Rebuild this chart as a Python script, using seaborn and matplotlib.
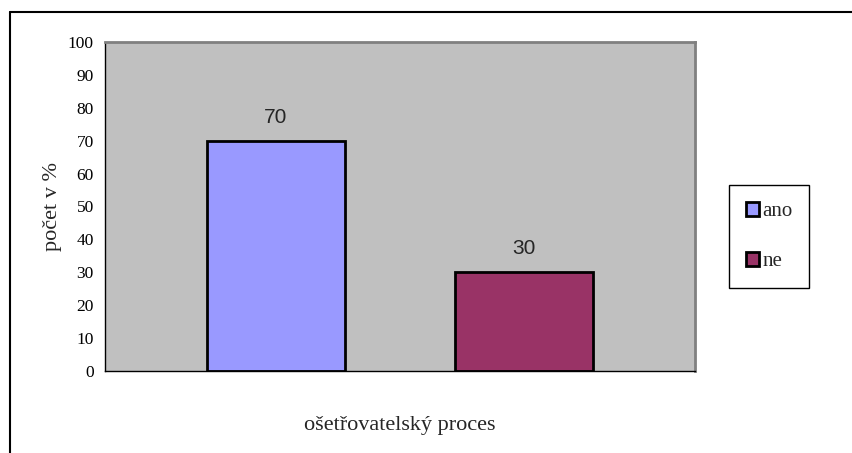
import matplotlib
matplotlib.use("Agg")
import matplotlib.pyplot as plt
import seaborn as sns
from matplotlib.lines import Line2D
from matplotlib.patches import Patch

# data
categories = ["ano", "ne"]
values = [70, 30]
colors = ["#9999FF", "#993366"]
y_ticks = list(range(0, 101, 10))

sns.set_style("white")
plt.rcParams['font.family'] = ['Liberation Serif', 'DejaVu Serif']

fig = plt.figure(figsize=(8.53, 4.53), dpi=100)
ax = fig.add_axes([105/853, 1 - 371/453, 590/853, 329/453])

sns.barplot(x=categories, y=values, hue=categories, palette=colors, width=0.556,
            saturation=1, edgecolor="black", linewidth=2, legend=False, ax=ax)
ax.set_facecolor("#C0C0C0")
ax.set_xlim(-0.69, 1.69)
ax.set_ylim(0, 100)
ax.set_yticks(y_ticks)
ax.set_xticks([-0.69, 1.69])
ax.set_xticklabels([])
ax.tick_params(axis="both", direction="out", colors="black", labelsize=12.5)
ax.tick_params(axis="y", length=5, width=1, pad=3)
ax.tick_params(axis="x", length=9, width=1)

for side in ["left", "bottom"]:
    ax.spines[side].set_color("black")
    ax.spines[side].set_linewidth(1)
for side in ["top", "right"]:
    ax.spines[side].set_visible(True)
    ax.spines[side].set_color("#808080")
    ax.spines[side].set_linewidth(2)

for i, v in enumerate(values):
    ax.annotate(str(v), (i, v), xytext=(0, 17), textcoords="offset points",
                ha="center", va="center", fontsize=15, family="Liberation Sans")

ax.set_ylabel("počet v %", fontsize=16, labelpad=4)
ax.set_xlabel("ošetřovatelský proces", fontsize=16, labelpad=20)

handles = [Patch(facecolor=c, edgecolor="black", linewidth=2) for c in colors]
fig.legend(handles, categories, loc="center left", bbox_to_anchor=(729/853, 1 - 236.5/453),
           frameon=True, fancybox=False, edgecolor="black", fontsize=15,
           handlelength=0.65, handleheight=0.65, handletextpad=0.15, labelspacing=1.45,
           borderpad=0.8, borderaxespad=0, framealpha=1)

# outer chart border (top and left)
fig.add_artist(Line2D([10/853, 1], [1 - 12/453, 1 - 12/453], transform=fig.transFigure,
                      color="black", linewidth=1.5))
fig.add_artist(Line2D([10/853, 10/853], [0, 1 - 12/453], transform=fig.transFigure,
                      color="black", linewidth=1.5))

fig.savefig("out.png", dpi=100)
